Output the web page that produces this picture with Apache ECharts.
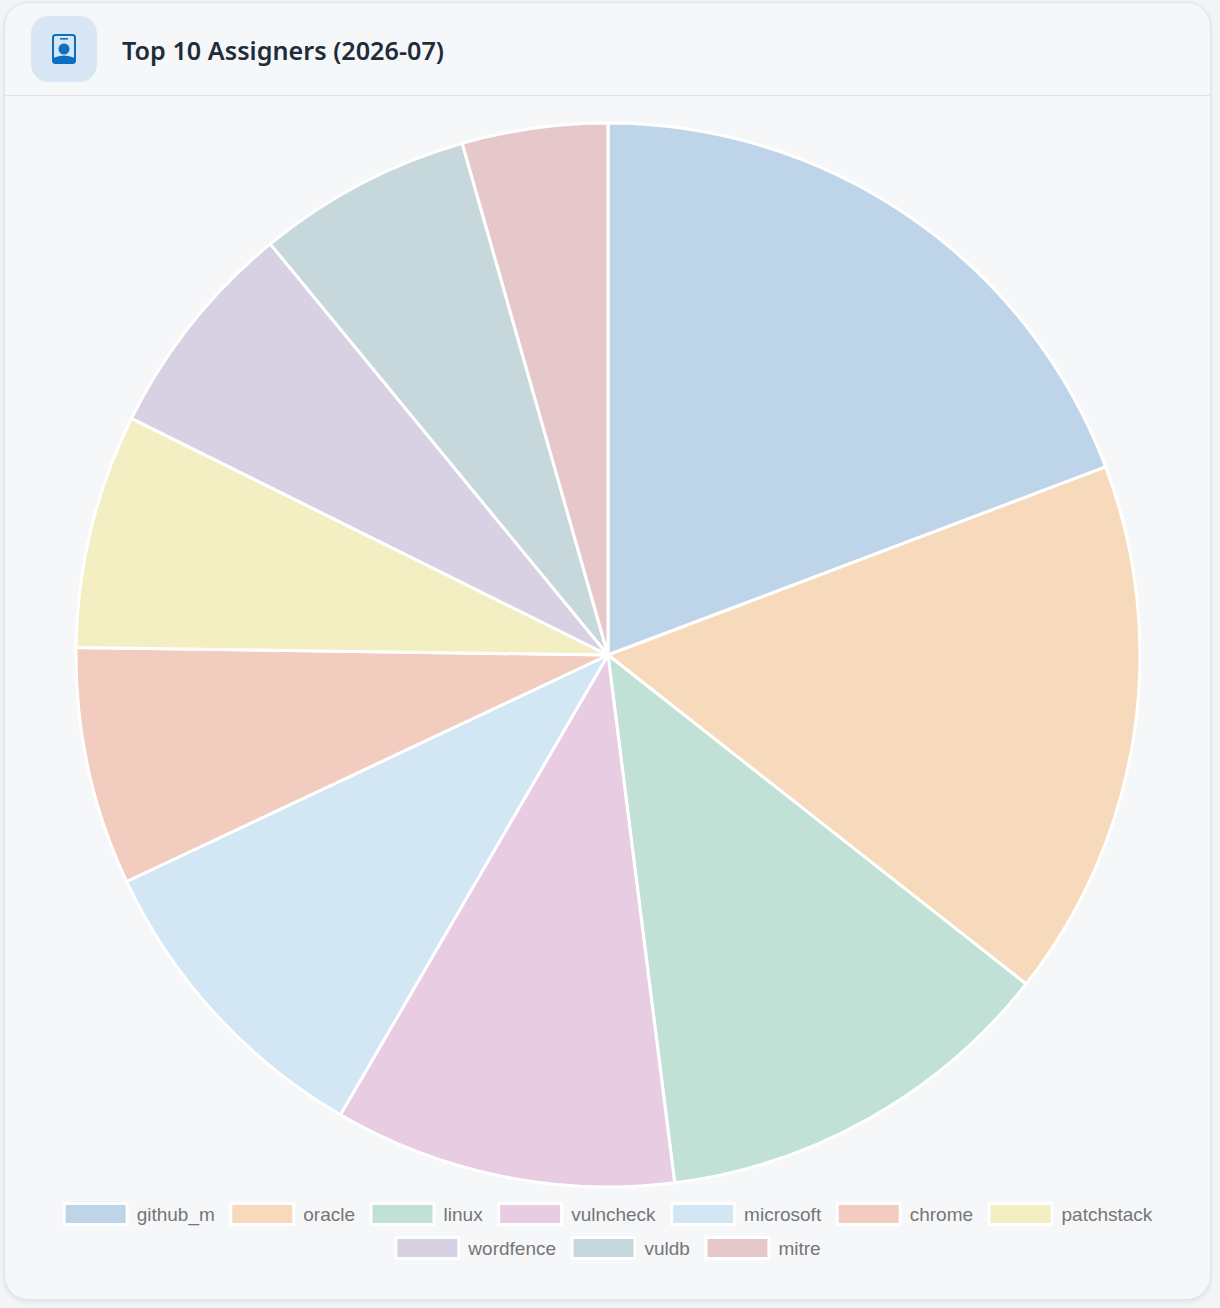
<!DOCTYPE html>
<html>
<head>
<meta charset="utf-8">
<title>Top 10 Assigners (2026-07)</title>
<script src="https://cdn.jsdelivr.net/npm/echarts@6/dist/echarts.min.js"></script>
<style>
  html, body { margin: 0; padding: 0; width: 1220px; height: 1308px; background: #f3f4f6; overflow: hidden; }
  .card {
    position: absolute; left: 4px; top: 2px; width: 1205px; height: 1296px;
    background: #f6f7f9; border: 1.5px solid #dfe2e7; border-radius: 24px;
    box-shadow: 0 1.5px 4px rgba(20, 30, 40, 0.08);
  }
  .head { position: absolute; left: 0; top: 0; right: 0; height: 92px; border-bottom: 1.5px solid #dfe2e7; }
  .tile {
    position: absolute; left: 25.5px; top: 12.5px; width: 66px; height: 66px;
    background: #d9e6f3; border-radius: 18px;
  }
  .tile svg { position: absolute; left: 21px; top: 18px; }
  .title {
    position: absolute; left: 117px; top: 27px; margin: 0;
    font: 600 25.2px/40px "Noto Sans", sans-serif; color: #1f2d3a; white-space: nowrap;
  }
  #chart { position: absolute; left: 5px; top: 96px; width: 1205px; height: 1202px; }
</style>
</head>
<body>
<div class="card">
  <div class="head">
    <div class="tile">
      <svg width="24" height="30" viewBox="0 0 24 30">
        <rect x="1" y="1" width="22" height="28" rx="2.5" fill="none" stroke="#0a70c4" stroke-width="2"/>
        <rect x="8" y="4" width="8" height="1.6" fill="#0a70c4"/>
        <circle cx="12" cy="15" r="5.5" fill="#0a70c4"/>
        <path d="M1 24 Q12 19 23 24 V27 Q23 29 21 29 H3 Q1 29 1 27 Z" fill="#0a70c4"/>
      </svg>
    </div>
    <h1 class="title">Top 10 Assigners (2026-07)</h1>
  </div>
</div>
<div id="chart"></div>
<script>
var assigners = ['github_m', 'oracle', 'linux', 'vulncheck', 'microsoft', 'chrome', 'patchstack', 'wordfence', 'vuldb', 'mitre'];
var counts = [693, 589, 446, 374, 346, 260, 256, 242, 235, 159];
var colors = ['#bed4e8', '#f7dabc', '#c2e1d6', '#e8cce1', '#d3e6f4', '#f1ccbf', '#f4efc2', '#d7d1e3', '#c7d8dc', '#e6c8cb'];
var legendRow1 = ['github_m', 'oracle', 'linux', 'vulncheck', 'microsoft', 'chrome', 'patchstack'];
var legendRow2 = ['wordfence', 'vuldb', 'mitre'];

function legendRow(names, top) {
  return {
    data: names,
    top: top,
    left: 'center',
    orient: 'horizontal',
    selectedMode: false,
    icon: 'rect',
    itemWidth: 63,
    itemHeight: 21,
    itemGap: 14.5,
    itemStyle: { borderColor: '#ffffff', borderWidth: 3 },
    textStyle: {
      color: '#757575',
      fontSize: 19,
      fontFamily: '"Liberation Sans", Arial, sans-serif',
      padding: [0, 0, 0, 4.5]
    }
  };
}

var chart = echarts.init(document.getElementById('chart'), null, { renderer: 'svg' });
chart.setOption({
  animation: false,
  legend: [legendRow(legendRow1, 1101), legendRow(legendRow2, 1135)],
  series: [{
    type: 'pie',
    center: [603, 559],
    radius: [0, 532],
    startAngle: 90,
    clockwise: true,
    label: { show: false },
    labelLine: { show: false },
    itemStyle: { borderColor: '#ffffff', borderWidth: 3 },
    data: assigners.map(function(name, i) {
      return { name: name, value: counts[i], itemStyle: { color: colors[i] } };
    })
  }]
});
</script>
</body>
</html>
